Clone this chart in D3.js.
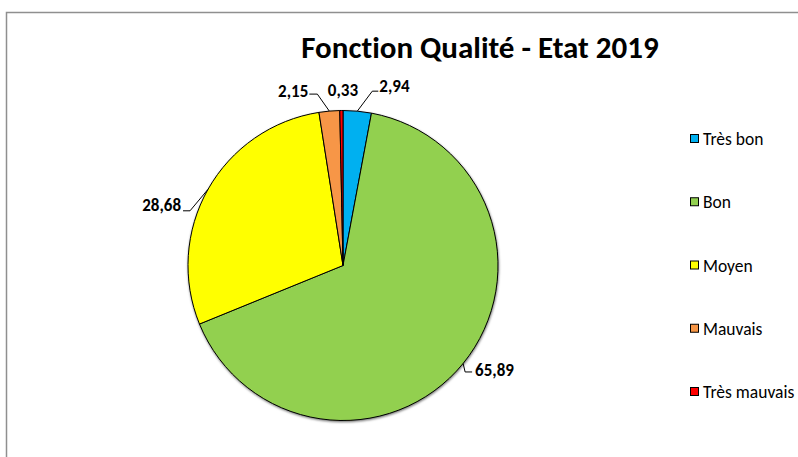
<!DOCTYPE html>
<html>
<head>
<meta charset="utf-8">
<script src="https://cdn.jsdelivr.net/npm/d3@7"></script>
<style>
  html, body { margin: 0; padding: 0; background: #fff; }
  svg { display: block; }
  text { font-variant-ligatures: none; font-feature-settings: "liga" 0, "dlig" 0; }
</style>
</head>
<body>
<script>
// Quality categories and their share (%) for 2019
const categories = ["Très bon", "Bon", "Moyen", "Mauvais", "Très mauvais"];
const values = [2.94, 65.89, 28.68, 2.15, 0.33];
const colors = ["#00B0F0", "#92D050", "#FFFF00", "#F79646", "#FF0000"];
const title = "Fonction Qualité - Etat 2019";

const W = 798, H = 457;
const cx = 343, cy = 265.5, R = 155;
const fontFamily = "Carlito, Calibri, 'Liberation Sans', Arial, sans-serif";

const fmt = v => d3.format(".2f")(v).replace(".", ",");

const svg = d3.select("body").append("svg")
  .attr("width", W).attr("height", H);

// chart-area frame
svg.append("rect")
  .attr("x", 6.5).attr("y", 12.5)
  .attr("width", W + 10).attr("height", H + 10)
  .attr("fill", "#fff")
  .attr("stroke", "#8f8f8f").attr("stroke-width", 1.5);

// title
svg.append("text")
  .attr("x", 480).attr("y", 58)
  .attr("text-anchor", "middle")
  .attr("font-family", fontFamily)
  .attr("font-weight", "bold")
  .attr("font-size", 31)
  .attr("fill", "#000")
  .text(title);

// soft shadow under the pie
const defs = svg.append("defs");
const f = defs.append("filter").attr("id", "shadow")
  .attr("x", "-10%").attr("y", "-10%").attr("width", "120%").attr("height", "120%");
f.append("feDropShadow").attr("dx", 0.5).attr("dy", 1.2)
  .attr("stdDeviation", 1).attr("flood-color", "#000").attr("flood-opacity", 0.55);

const pie = d3.pie().sort(null).value(d => d.value);
const arcs = pie(categories.map((c, i) => ({ name: c, value: values[i], color: colors[i] })));
const arc = d3.arc().innerRadius(0).outerRadius(R);

const g = svg.append("g").attr("transform", `translate(${cx},${cy})`);
g.append("g").attr("filter", "url(#shadow)")
  .selectAll("path").data(arcs).join("path")
  .attr("d", arc)
  .attr("fill", d => d.data.color)
  .attr("stroke", "#000")
  .attr("stroke-width", 1)
  .attr("stroke-linejoin", "round");

// data labels: placement relative to the slice's outer mid-point
const labelLayout = {
  "Très bon":     { dx: 22,  dy: -25, anchor: "start", leader: [[15, -20], [21, -20]] },
  "Bon":          { dx: 12,  dy: 7,   anchor: "start", leader: [[2, 8.5], [9, 8.5]] },
  "Moyen":        { dx: -27, dy: 16,  anchor: "end",   leader: [[-18, 21.5], [-25, 21.5]] },
  "Mauvais":      { dx: -21, dy: -20, anchor: "end",   leader: [[-12, -17], [-20, -17]] },
  "Très mauvais": { dx: 1.5, dy: -20, anchor: "middle", leader: null }
};

const lbl = g.append("g");
arcs.forEach(d => {
  const mid = (d.startAngle + d.endAngle) / 2;
  const px = R * Math.sin(mid), py = -R * Math.cos(mid);
  const L = labelLayout[d.data.name];
  if (L.leader) {
    const pts = [[px, py]].concat(L.leader.map(p => [px + p[0], py + p[1]]));
    lbl.append("path")
      .attr("d", d3.line()(pts))
      .attr("fill", "none")
      .attr("stroke", "#000")
      .attr("stroke-width", 1);
  }
  lbl.append("text")
    .attr("x", px + L.dx).attr("y", py + L.dy)
    .attr("text-anchor", L.anchor)
    .attr("dominant-baseline", "central")
    .attr("font-family", fontFamily)
    .attr("font-weight", "bold")
    .attr("font-size", 17)
    .attr("fill", "#000")
    .text(fmt(d.data.value));
});

// legend
const legendY = d3.scalePoint().domain(categories).range([138, 391]);
const leg = svg.append("g").selectAll("g").data(categories).join("g")
  .attr("transform", d => `translate(690,${legendY(d)})`);
leg.append("rect")
  .attr("x", 0.5).attr("y", -3.5).attr("width", 8).attr("height", 8)
  .attr("fill", (d, i) => colors[i])
  .attr("stroke", "#000").attr("stroke-width", 1);
leg.append("text")
  .attr("x", 13).attr("y", 1)
  .attr("dominant-baseline", "central")
  .attr("font-family", fontFamily)
  .attr("font-size", 17.5)
  .attr("fill", "#000")
  .text(d => d);
</script>
</body>
</html>
